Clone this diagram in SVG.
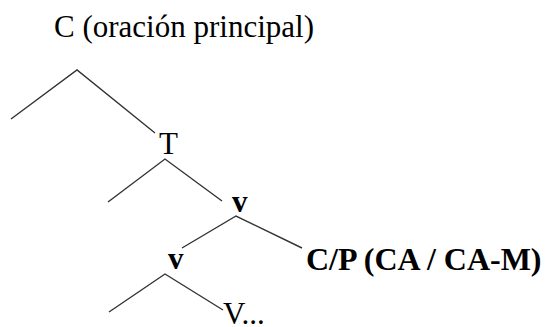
<svg xmlns="http://www.w3.org/2000/svg" width="548" height="327" viewBox="0 0 548 327">
<style>
.e{stroke:#333;stroke-width:1.4;fill:none}
</style>
<rect width="548" height="327" fill="#fff"/>
<g id="connectors">
<polyline class="e" points="11,119 77,70 155,133"/>
<polyline class="e" points="108,202 165,159 222,201"/>
<polyline class="e" points="182,248 236,216 302,248"/>
<polyline class="e" points="109,312 165,274 223,310"/>
</g>
<g font-family="Liberation Serif, DejaVu Serif, serif" font-size="31" fill="#000">
<g id="node-C"><text x="54" y="37">C (oración principal)</text></g>
<g id="node-T"><text x="159" y="154">T</text></g>
<g id="node-v1"><text font-weight="bold" x="232" y="212">v</text></g>
<g id="node-CP"><text font-weight="bold" font-size="32" x="306" y="270">C/P (CA / CA-M)</text></g>
<g id="node-v2"><text font-weight="bold" x="168" y="269">v</text></g>
<g id="node-V"><text x="223" y="324">V...</text></g>
</g>
</svg>
